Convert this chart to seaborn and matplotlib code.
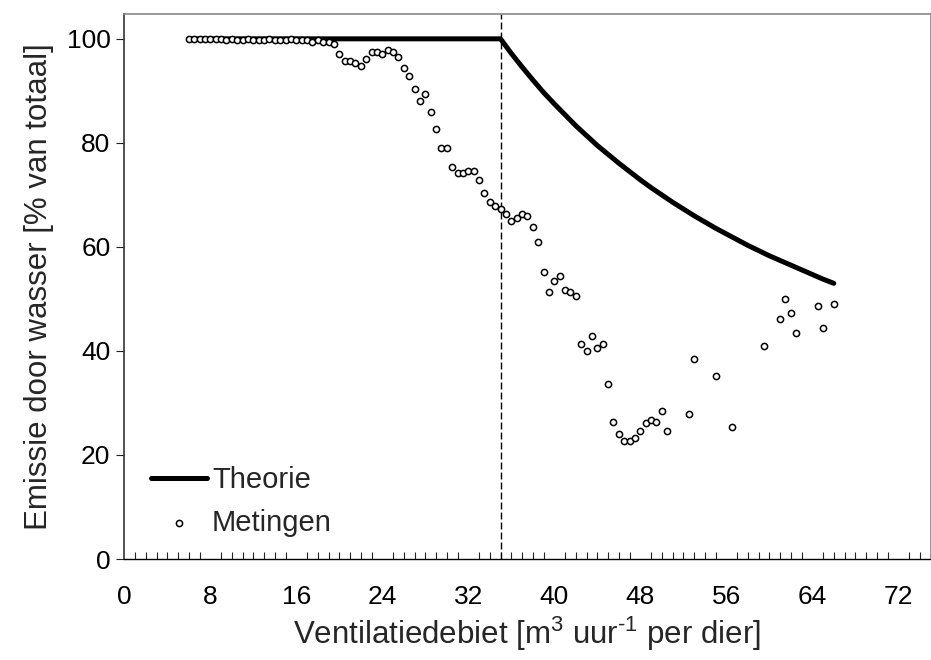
import matplotlib
matplotlib.use("Agg")
import matplotlib.pyplot as plt
import seaborn as sns
import pandas as pd
from matplotlib.ticker import MultipleLocator

# ---- data ----
meting_x = [6.0, 6.5, 7.0, 7.5, 8.0, 8.5, 9.0, 9.5, 10.0, 10.5, 11.0, 11.5, 12.0, 12.5,
            13.0, 13.5, 14.0, 14.5, 15.0, 15.5, 16.0, 16.5, 17.0, 17.5, 18.0, 18.5, 19.0, 19.5,
            20.0, 20.5, 21.0, 21.5, 22.0, 22.5, 23.0, 23.5, 24.0, 24.5, 25.0, 25.5, 26.0, 26.5,
            27.0, 27.5, 28.0, 28.5, 29.0, 29.5, 30.0, 30.5, 31.0, 31.5, 32.0, 32.5, 33.0, 33.5,
            34.0, 34.5, 35.0, 35.5, 36.0, 36.5, 37.0, 37.5, 38.0, 38.5, 39.0, 39.5, 40.0, 40.5,
            41.0, 41.5, 42.0, 42.5, 43.0, 43.5, 44.0, 44.5, 45.0, 45.5, 46.0, 46.5, 47.0, 47.5,
            48.0, 48.5, 49.0, 49.5, 50.0, 50.5, 52.5, 53.0, 55.0, 56.5, 59.5, 61.0, 61.5, 62.0,
            62.5, 64.5, 65.0, 66.0]
meting_y = [100.0, 100.0, 100.0, 100.0, 100.0, 100.0, 100.0, 99.7, 100.0, 99.8, 99.7, 100.0,
            99.7, 99.7, 99.7, 100.0, 99.7, 99.7, 99.7, 100.0, 99.7, 99.7, 99.7, 99.4, 99.7, 99.4,
            99.4, 99.0, 97.1, 95.7, 95.7, 95.3, 94.7, 96.1, 97.4, 97.4, 97.1, 97.8, 97.4, 96.5,
            94.3, 92.9, 90.4, 88.1, 89.3, 86.0, 82.6, 79.0, 79.0, 75.3, 74.2, 74.2, 74.6, 74.6,
            72.8, 70.4, 68.7, 67.9, 67.3, 66.3, 64.9, 65.6, 66.3, 65.9, 63.8, 61.0, 55.2, 51.3,
            53.5, 54.5, 51.7, 51.3, 50.6, 41.3, 39.9, 42.8, 40.6, 41.3, 33.7, 26.4, 24.1, 22.6,
            22.6, 23.3, 24.7, 26.1, 26.8, 26.4, 28.5, 24.7, 27.8, 38.5, 35.1, 25.4, 41.0, 46.2,
            49.9, 47.2, 43.4, 48.6, 44.4, 49.0]

theorie_x = [6, 35, 36, 37, 38, 39, 40, 41, 42, 43, 44, 45, 46, 47, 48, 49, 50, 51, 52, 53,
             54, 55, 56, 57, 58, 59, 60, 61, 62, 63, 64, 65, 66]
theorie_y = [100.0, 100.0, 97.2, 94.6, 92.1, 89.7, 87.5, 85.4, 83.3, 81.4, 79.5, 77.8, 76.1,
             74.5, 72.9, 71.4, 70.0, 68.6, 67.3, 66.0, 64.8, 63.6, 62.5, 61.4, 60.3, 59.3, 58.3,
             57.4, 56.5, 55.6, 54.7, 53.8, 53.0]

grens_x = 35
x_ticks = [0, 8, 16, 24, 32, 40, 48, 56, 64, 72]
y_ticks = [0, 20, 40, 60, 80, 100]

label_theorie = "Theorie"
label_metingen = "Metingen"
xlabel = "Ventilatiedebiet [m$^{3}$ uur$^{\u2010 1}$ per dier]"
ylabel = "Emissie door wasser [% van totaal]"

# ---- plotting ----
sns.set_style("white")
plt.rcParams["font.family"] = ["Liberation Sans", "DejaVu Sans"]
plt.rcParams["mathtext.fontset"] = "custom"
plt.rcParams["mathtext.rm"] = "Liberation Sans"
plt.rcParams["mathtext.it"] = "Liberation Sans"
plt.rcParams["mathtext.default"] = "regular"

fig = plt.figure(figsize=(9.31, 6.60), dpi=100)
ax = fig.add_axes([0.1335, 0.153, 0.866, 0.826])

df_t = pd.DataFrame({"x": theorie_x, "y": theorie_y})
df_m = pd.DataFrame({"x": meting_x, "y": meting_y})

sns.lineplot(data=df_t, x="x", y="y", color="black", linewidth=3.6, ax=ax,
             label=label_theorie, sort=False, zorder=2)
sns.scatterplot(data=df_m, x="x", y="y", marker="o", facecolor="white",
                edgecolor="black", linewidth=1.1, s=20, ax=ax,
                label=label_metingen, zorder=3)
ax.axvline(grens_x, color="black", linewidth=1.0, dashes=(5, 2.2), zorder=1)

ax.set_xlim(0, 75)
ax.set_ylim(0, 104.8)
ax.set_xticks(x_ticks)
ax.set_yticks(y_ticks)
ax.xaxis.set_minor_locator(MultipleLocator(1))

ax.tick_params(axis="x", which="major", direction="inout", length=11, width=0.8,
               labelsize=19, pad=13, colors="#222222")
ax.tick_params(axis="x", which="minor", direction="in", length=5, width=0.8,
               colors="#222222", bottom=True)
ax.tick_params(axis="y", which="major", direction="out", length=6, width=0.8,
               labelsize=19, pad=4, colors="#222222", left=True)
ax.tick_params(axis="x", labelcolor="black")
ax.tick_params(axis="y", labelcolor="black")

ax.set_xlabel(xlabel, fontsize=22.5, labelpad=4)
ax.set_ylabel(ylabel, fontsize=22.5, labelpad=9)

for side in ["top", "right"]:
    ax.spines[side].set_color("#888888")
    ax.spines[side].set_linewidth(1.2)
ax.spines["left"].set_color("#333333")
ax.spines["left"].set_linewidth(1.2)
ax.spines["bottom"].set_color("black")
ax.spines["bottom"].set_linewidth(1.0)

leg = ax.legend(loc="lower left", bbox_to_anchor=(0.019, 0.0195), frameon=False,
                fontsize=21, handlelength=1.9, handletextpad=0.18, labelspacing=0.5,
                borderaxespad=0.0)

fig.savefig("out.png", dpi=100)
